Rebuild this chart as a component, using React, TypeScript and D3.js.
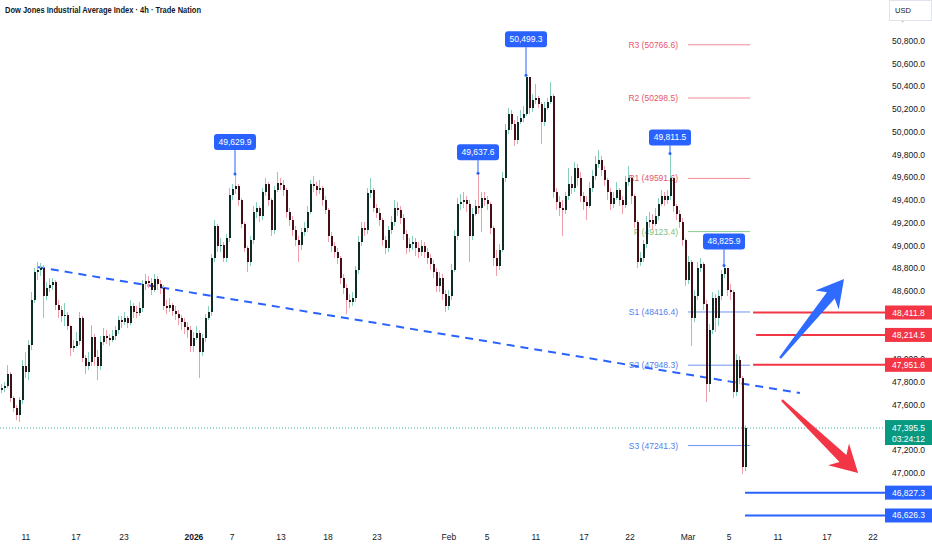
import React from 'react';
import * as d3 from 'd3';

const title = 'Dow Jones Industrial Average Index · 4h · Trade Nation';
const firstOpen = 47729;

const closes = [
  47747, 47765, 47870, 47659, 47571, 47509, 47641, 47941, 47888, 48125,
  48521, 48768, 48785, 48803, 48557, 48627, 48653, 48680, 48477, 48433,
  48381, 48389, 48293, 48099, 48117, 48161, 48363, 48011, 47941, 47976,
  48196, 48020, 47941, 48152, 48205, 48187, 48169, 48205, 48257, 48345,
  48328, 48363, 48319, 48469, 48416, 48407, 48451, 48662, 48689, 48671,
  48609, 48706, 48662, 48627, 48469, 48451, 48477, 48425, 48398, 48363,
  48328, 48284, 48257, 48117, 48187, 48231, 48064, 48187, 48363, 48416,
  48891, 49173, 48997, 49005, 48891, 49067, 49445, 49498, 49525, 49401,
  49190, 48979, 48856, 49049, 49296, 49331, 49261, 49472, 49542, 49401,
  49137, 49489, 49551, 49533, 49489, 49296, 49225, 49137, 49049, 49005,
  49120, 49155, 49296, 49542, 49525, 49489, 49507, 49401, 49313, 49085,
  48997, 48944, 48891, 48715, 48627, 48521, 48504, 48539, 48785, 49032,
  49155, 49137, 49463, 49489, 49331, 49287, 49225, 49049, 48979, 49137,
  49208, 49331, 49313, 49243, 49102, 48979, 49014, 49032, 48979, 48944,
  48997, 48944, 48891, 48838, 48768, 48645, 48715, 48574, 48469, 48557,
  48785, 49085, 49366, 49384, 49401, 49366, 49085, 49278, 49349, 49331,
  49419, 49401, 49366, 49155, 48891, 48821, 48961, 49595, 50017, 50158,
  50070, 49929, 50087, 50123, 50158, 50483, 50211, 50281, 50299, 50246,
  50087, 50211, 50263, 50316, 49472, 49384, 49331, 49313, 49437, 49542,
  49507, 49683, 49595, 49437, 49384, 49349, 49507, 49613, 49718, 49753,
  49665, 49577, 49472, 49366, 49419, 49489, 49401, 49357, 49560, 49595,
  49437, 49208, 48856, 48891, 49014, 49208, 49225, 49190, 49261, 49366,
  49437, 49401, 49437, 49595, 49349, 49278, 49208, 49049, 48697, 48856,
  48363, 48557, 48803, 48838, 48486, 47782, 48257, 48539, 48363, 48557,
  48750, 48803, 48609, 48592, 47712, 47993, 47835, 47051, 47395.5,
];

const highs = [
  47782, 47800, 47949, 47888, 47677, 47597, 47668, 47993, 48064, 48169,
  48592, 48803, 48856, 48847, 48829, 48680, 48715, 48715, 48697, 48521,
  48469, 48495, 48416, 48301, 48169, 48240, 48416, 48381, 48037, 48064,
  48301, 48222, 48081, 48205, 48275, 48257, 48222, 48257, 48293, 48381,
  48381, 48416, 48381, 48521, 48495, 48469, 48504, 48697, 48750, 48733,
  48715, 48750, 48733, 48697, 48653, 48521, 48539, 48495, 48469, 48433,
  48389, 48363, 48328, 48293, 48240, 48293, 48257, 48222, 48398, 48469,
  48926, 49225, 49190, 49067, 49032, 49102, 49507, 49542, 49629.9, 49542,
  49419, 49208, 48997, 49085, 49349, 49384, 49349, 49507, 49595, 49560,
  49419, 49525, 49648, 49595, 49577, 49507, 49331, 49261, 49173, 49085,
  49155, 49208, 49349, 49577, 49613, 49560, 49577, 49525, 49437, 49331,
  49120, 49032, 48979, 48909, 48750, 48662, 48574, 48592, 48821, 49085,
  49208, 49208, 49507, 49595, 49507, 49366, 49331, 49243, 49085, 49173,
  49261, 49401, 49384, 49349, 49278, 49137, 49067, 49085, 49067, 49032,
  49049, 49032, 48979, 48926, 48873, 48803, 48768, 48750, 48609, 48609,
  48838, 49137, 49419, 49454, 49472, 49437, 49401, 49331, 49401, 49637.6,
  49472, 49472, 49437, 49384, 49173, 48961, 49014, 49648, 50070, 50211,
  50193, 50105, 50140, 50193, 50228, 50499.3, 50475, 50334, 50422, 50316,
  50263, 50263, 50299, 50439, 50334, 49507, 49437, 49401, 49472, 49683,
  49613, 49736, 49718, 49648, 49472, 49437, 49560, 49665, 49789, 49841,
  49789, 49701, 49595, 49507, 49472, 49560, 49507, 49437, 49613, 49701,
  49613, 49454, 49225, 48944, 49049, 49261, 49296, 49278, 49331, 49419,
  49489, 49472, 49489, 49811.5, 49595, 49366, 49313, 49243, 49067, 48909,
  48873, 48609, 48856, 48891, 48856, 48521, 48310, 48592, 48574, 48609,
  48785, 48825.9, 48803, 48662, 48609, 48046, 48029, 47853, 47420,
];

const lows = [
  47703, 47712, 47747, 47624, 47536, 47465, 47448, 47606, 47835, 47817,
  48081, 48495, 48697, 48733, 48363, 48521, 48592, 48609, 48433, 48363,
  48328, 48293, 48257, 48029, 48064, 48099, 48125, 47976, 47870, 47905,
  47941, 47941, 47817, 47905, 48125, 48134, 48117, 48152, 48169, 48222,
  48275, 48301, 48275, 48301, 48363, 48363, 48381, 48416, 48609, 48627,
  48565, 48592, 48609, 48574, 48433, 48398, 48416, 48381, 48345, 48301,
  48257, 48222, 48187, 48064, 48064, 48169, 47835, 48029, 48152, 48345,
  48381, 48856, 48944, 48944, 48856, 48856, 49032, 49401, 49454, 49349,
  49155, 48944, 48768, 48821, 49014, 49243, 49208, 49225, 49437, 49349,
  49085, 49102, 49472, 49489, 49437, 49243, 49173, 49085, 48997, 48856,
  48961, 49085, 49120, 49278, 49472, 49437, 49454, 49349, 49278, 49032,
  48944, 48891, 48838, 48662, 48574, 48398, 48451, 48469, 48504, 48750,
  48997, 49085, 49102, 49419, 49296, 49243, 49173, 48997, 48926, 48944,
  49102, 49173, 49261, 49190, 49049, 48926, 48944, 48961, 48909, 48891,
  48909, 48891, 48838, 48785, 48715, 48592, 48592, 48521, 48416, 48433,
  48521, 48768, 49049, 49313, 49331, 49296, 48856, 49049, 49261, 49278,
  49120, 49349, 49313, 49102, 48821, 48733, 48785, 48944, 49560, 49982,
  50017, 49877, 49894, 50070, 50087, 50140, 50158, 50175, 50246, 50211,
  49894, 50052, 50193, 50246, 49419, 49313, 49261, 49085, 49278, 49401,
  49454, 49472, 49525, 49384, 49313, 49225, 49331, 49472, 49577, 49683,
  49613, 49525, 49401, 49313, 49331, 49401, 49349, 49278, 49331, 49525,
  49366, 49155, 48803, 48821, 48856, 48979, 49155, 49137, 49173, 49225,
  49349, 49349, 49366, 49401, 49296, 49225, 49155, 48997, 48645, 48662,
  48117, 48328, 48521, 48768, 48433, 47624, 47712, 48222, 48240, 48293,
  48521, 48715, 48557, 48521, 47659, 47677, 47782, 46990, 47016,
];

const xTickLabels = ['11', '17', '23', '2026', '7', '13', '18', '23', 'Feb', '5', '11', '17', '22', 'Mar', '5', '11', '17', '22'];
const xTickIndex = [8.3, 25, 41, 64.3, 77, 93.3, 109, 125.3, 149.3, 162, 178.3, 194.3, 209.7, 229, 242.7, 259, 275.3, 290.7];
const yTickValues = [47000, 47200, 47400, 47600, 47800, 48000, 48200, 48400, 48600, 48800, 49000, 49200, 49400, 49600, 49800, 50000, 50200, 50400, 50600, 50800, 51000];

const calloutIndex = [78, 159, 175, 223, 241];
const calloutValue = [49629.9, 49637.6, 50499.3, 49811.5, 48825.9];
const calloutGap = [24, 13, 28, 8, 16];

const pivotNames = ['R3', 'R2', 'R1', 'P', 'S1', 'S2', 'S3'];
const pivotValues = [50766.6, 50298.5, 49591.6, 49123.4, 48416.4, 47948.3, 47241.3];
const pivotStartIndex = 229;
const pivotEndIndex = 249.7;

const resistanceLevels = [48411.8, 48214.5, 47951.6];
const resistanceStartIndex = [250.7, 251.7, 250.7];
const supportLevels = [46827.3, 46626.3];
const supportStartIndex = 248;

const lastPrice = 47395.5;
const countdown = '03:24:12';

const trendStart: [number, number] = [12, 48812];
const trendEnd: [number, number] = [266.3, 47703];

const upArrow = { from: [259.7, 48011], to: [281, 48706] };
const downArrow = { from: [260.3, 47641], to: [285.7, 47000] };

const W = 932;
const H = 550;
const PLOT_RIGHT = 885;
const FONT = '"Liberation Sans", Arial, sans-serif';
const BLUE = '#2962ff';
const RED = '#f23645';
const GREEN = '#089981';

const fmt = d3.format(',.1f');

function arrowPath(x1: number, y1: number, x2: number, y2: number) {
  const dx = x2 - x1;
  const dy = y2 - y1;
  const L = Math.hypot(dx, dy);
  const ux = dx / L;
  const uy = dy / L;
  const px = -uy;
  const py = ux;
  const headLen = 27;
  const headHalf = 15;
  const shaftHalf = 5;
  const tailHalf = 1.2;
  const bx = x2 - ux * headLen;
  const by = y2 - uy * headLen;
  const nx = x2 - ux * (headLen - 6);
  const ny = y2 - uy * (headLen - 6);
  const pts: [number, number][] = [
    [x1 + px * tailHalf, y1 + py * tailHalf],
    [nx + px * shaftHalf, ny + py * shaftHalf],
    [bx + px * headHalf, by + py * headHalf],
    [x2, y2],
    [bx - px * headHalf, by - py * headHalf],
    [nx - px * shaftHalf, ny - py * shaftHalf],
    [x1 - px * tailHalf, y1 - py * tailHalf],
  ];
  return 'M' + pts.map((p) => p[0].toFixed(1) + ',' + p[1].toFixed(1)).join('L') + 'Z';
}

export default function App() {
  const x = d3.scaleLinear().domain([0, 248]).range([1, 745]);
  const y = d3.scaleLinear().domain([47000, 50800]).range([473, 41]);
  const bodyW = 2;

  const candles = closes.map((c, i) => {
    const o = i === 0 ? firstOpen : closes[i - 1];
    const h = Math.max(highs[i], o, c);
    const l = Math.min(lows[i], o, c);
    return { i, o, h, l, c, up: c >= o };
  });

  return (
    <svg width={W} height={H} viewBox={`0 0 ${W} ${H}`} style={{ position: 'absolute', left: 0, top: 0, background: '#fff' }} fontFamily={FONT}>
      <rect x={0} y={0} width={W} height={H} fill="#ffffff" />

      {/* title */}
      <text x={5} y={13} fontSize={9.5} fontWeight={700} fill="#131722" textLength={196} lengthAdjust="spacingAndGlyphs">{title}</text>

      {/* trend line */}
      <line x1={x(trendStart[0])} y1={y(trendStart[1])} x2={x(trendEnd[0])} y2={y(trendEnd[1])} stroke={BLUE} strokeWidth={2} strokeDasharray="8 6" />

      {/* pivot lines */}
      {pivotNames.map((n, k) => {
        const col = n.startsWith('R') ? '#f08a96' : n === 'P' ? '#8bcf8f' : '#6d94f5';
        const tcol = n.startsWith('R') ? '#e8566a' : n === 'P' ? '#7cbf80' : '#4f7ff0';
        const yy = y(pivotValues[k]);
        return (
          <g key={n}>
            <line x1={x(pivotStartIndex)} x2={x(pivotEndIndex)} y1={yy} y2={yy} stroke={col} strokeWidth={1} />
            <text x={x(pivotStartIndex) - 10} y={yy + 3} fontSize={8.5} fill={tcol} textAnchor="end">{`${n} (${pivotValues[k].toFixed(1)})`}</text>
          </g>
        );
      })}

      {/* current price dotted line */}
      <line x1={0} x2={PLOT_RIGHT} y1={y(lastPrice)} y2={y(lastPrice)} stroke={GREEN} strokeWidth={1} strokeDasharray="1 2" opacity={0.8} />

      {/* candles */}
      {candles.map((d) => {
        const cx = x(d.i);
        const top = y(Math.max(d.o, d.c));
        const bot = y(Math.min(d.o, d.c));
        return (
          <g key={d.i}>
            <line x1={cx + 0.5} x2={cx + 0.5} y1={y(d.h)} y2={y(d.l)} stroke={d.up ? '#86cfbc' : '#f09faa'} strokeWidth={1} />
            <rect x={cx - bodyW / 2 + 0.5} y={top} width={bodyW} height={Math.max(1, bot - top)} fill={d.up ? '#0f2c24' : '#440e17'} shapeRendering="crispEdges" />
          </g>
        );
      })}

      {/* resistance lines */}
      {resistanceLevels.map((v, k) => (
        <line key={v} x1={x(resistanceStartIndex[k])} x2={PLOT_RIGHT} y1={y(v)} y2={y(v)} stroke={RED} strokeWidth={2} />
      ))}
      {/* support lines */}
      {supportLevels.map((v) => (
        <line key={v} x1={x(supportStartIndex)} x2={PLOT_RIGHT} y1={y(v)} y2={y(v)} stroke={BLUE} strokeWidth={2} />
      ))}

      {/* arrows */}
      <path d={arrowPath(x(upArrow.from[0]), y(upArrow.from[1]), x(upArrow.to[0]), y(upArrow.to[1]))} fill="#2f6bff" />
      <path d={arrowPath(x(downArrow.from[0]), y(downArrow.from[1]), x(downArrow.to[0]), y(downArrow.to[1]))} fill={RED} />

      {/* callouts */}
      {calloutIndex.map((ci, k) => {
        const cx = x(ci);
        const hy = y(calloutValue[k]);
        const bBottom = hy - calloutGap[k];
        return (
          <g key={ci}>
            <line x1={cx} x2={cx} y1={bBottom} y2={hy} stroke={BLUE} strokeWidth={1} />
            <circle cx={cx} cy={hy} r={1.5} fill={BLUE} />
            <rect x={cx - 21} y={bBottom - 16} width={42} height={16} rx={3} fill={BLUE} />
            <text x={cx} y={bBottom - 5} fontSize={8.5} fill="#fff" textAnchor="middle">{fmt(calloutValue[k])}</text>
          </g>
        );
      })}

      {/* right axis panel */}
      <rect x={PLOT_RIGHT} y={0} width={W - PLOT_RIGHT} height={H} fill="#fff" />
      {yTickValues.map((v) => (
        <text key={v} x={892} y={y(v) + 3} fontSize={8.5} fill="#131722">{fmt(v)}</text>
      ))}

      {resistanceLevels.map((v) => (
        <g key={'rb' + v}>
          <rect x={PLOT_RIGHT} y={y(v) - 7} width={W - PLOT_RIGHT} height={14} fill={RED} />
          <text x={PLOT_RIGHT + 23.5} y={y(v) + 3} fontSize={8.5} fill="#fff" textAnchor="middle">{fmt(v)}</text>
        </g>
      ))}
      {supportLevels.map((v) => (
        <g key={'sb' + v}>
          <rect x={PLOT_RIGHT} y={y(v) - 7} width={W - PLOT_RIGHT} height={14} fill={BLUE} />
          <text x={PLOT_RIGHT + 23.5} y={y(v) + 3} fontSize={8.5} fill="#fff" textAnchor="middle">{fmt(v)}</text>
        </g>
      ))}
      <g>
        <rect x={PLOT_RIGHT} y={y(lastPrice) - 8} width={W - PLOT_RIGHT} height={25} fill={GREEN} />
        <text x={PLOT_RIGHT + 23.5} y={y(lastPrice) + 3} fontSize={8.5} fill="#fff" textAnchor="middle">{fmt(lastPrice)}</text>
        <text x={PLOT_RIGHT + 23.5} y={y(lastPrice) + 14} fontSize={8.5} fill="#fff" textAnchor="middle">{countdown}</text>
      </g>

      {/* USD box */}
      <rect x={889.5} y={0.5} width={42} height={20} fill="#fff" stroke="#e0e3eb" />
      <text x={895} y={13} fontSize={7.5} fill="#131722">USD</text>

      {/* time axis */}
      {xTickLabels.map((t, k) => (
        <text key={k} x={x(xTickIndex[k])} y={540} fontSize={8.5} fill="#131722" textAnchor="middle" fontWeight={t === '2026' ? 700 : 400}>{t}</text>
      ))}
    </svg>
  );
}
